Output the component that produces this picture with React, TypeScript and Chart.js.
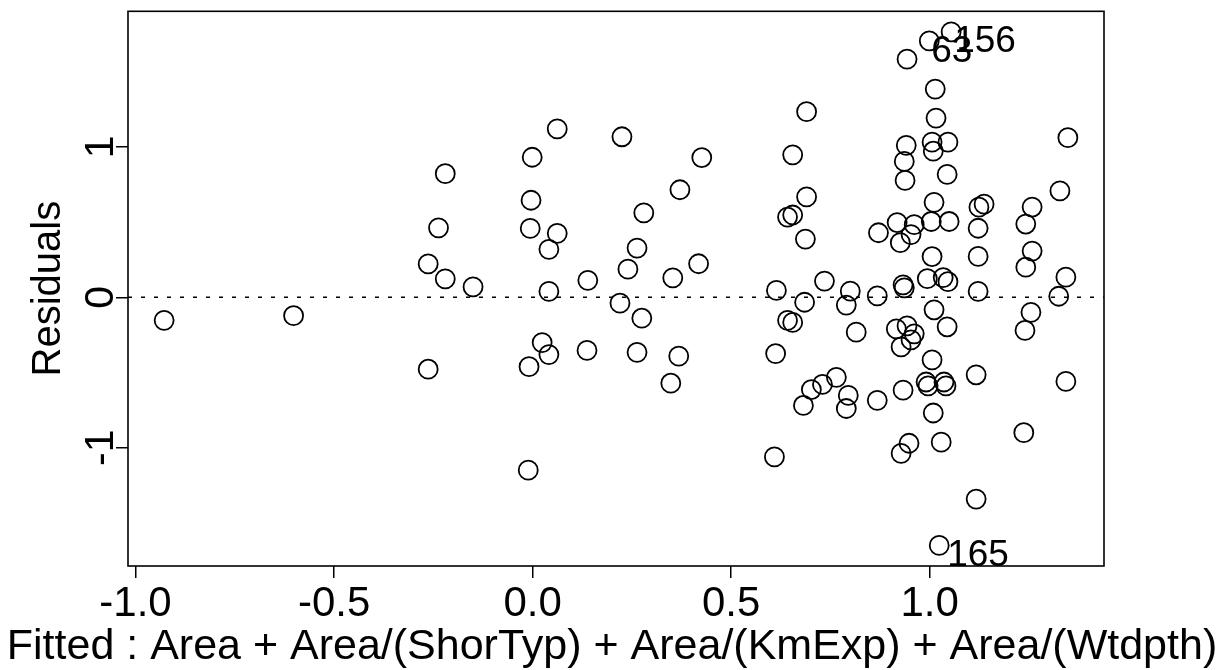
import React, { useEffect, useRef } from "react";
import { Chart, registerables } from "chart.js";

Chart.register(...registerables);

// Fitted values (x) and residuals (y)
const fittedValues = [
  -0.928, -0.602, -0.263, -0.22, -0.237, -0.263, -0.22, -0.15, 0.062, 0.225,
  -0.001, 0.426, 0.371, -0.004, 0.28, -0.006, 0.062, 0.041, 0.263, 0.24,
  0.418, 0.139, 0.353, 0.041, 0.22, 0.275, 0.024, 0.041, -0.009, 0.137,
  0.263, 0.368, 0.348, -0.011, 0.614, 0.612, 0.609, 0.655, 0.69, 0.69,
  0.642, 0.655, 0.687, 0.735, 0.685, 0.8, 0.79, 0.868, 0.642, 0.655,
  0.815, 0.765, 0.73, 0.702, 0.682, 0.795, 0.79, 0.868, 1.054, 0.999,
  0.943, 1.014, 1.016, 1.348, 0.941, 1.006, 1.046, 1.009, 0.936, 1.044,
  0.938, 1.328, 1.011, 1.124, 1.137, 1.258, 0.918, 1.004, 1.049, 1.122,
  1.242, 0.871, 0.961, 0.953, 0.926, 1.006, 1.122, 1.258, 1.242, 1.343,
  1.325, 0.936, 0.933, 0.994, 1.034, 1.046, 1.122, 1.255, 1.24, 1.011,
  1.044, 0.916, 0.943, 0.961, 0.953, 0.928, 1.006, 1.117, 1.343, 0.991,
  0.996, 1.036, 1.041, 0.933, 1.009, 0.948, 0.928, 1.029, 1.237, 1.117,
  1.024,
];
const residualValues = [
  -0.153, -0.122, -0.478, 0.822, 0.462, 0.222, 0.122, 0.069, 1.119, 1.067,
  0.931, 0.929, 0.715, 0.645, 0.561, 0.458, 0.425, 0.319, 0.327, 0.187,
  0.223, 0.113, 0.129, 0.039, -0.039, -0.139, -0.301, -0.381, -0.461, -0.353,
  -0.366, -0.391, -0.571, -1.149, 0.046, -0.374, -1.061, 0.947, 1.234, 0.667,
  0.533, 0.547, 0.387, 0.108, -0.033, 0.041, -0.052, 0.009, -0.153, -0.167,
  -0.232, -0.532, -0.579, -0.613, -0.719, -0.652, -0.739, -0.685, 1.764, 1.704,
  1.583, 1.384, 1.191, 1.061, 1.01, 1.031, 1.031, 0.971, 0.903, 0.817,
  0.777, 0.707, 0.631, 0.599, 0.619, 0.6, 0.497, 0.504, 0.504, 0.459,
  0.487, 0.429, 0.483, 0.417, 0.363, 0.271, 0.272, 0.307, 0.2, 0.134,
  0.007, 0.063, 0.083, 0.124, 0.131, 0.104, 0.039, -0.1, -0.22, -0.083,
  -0.196, -0.21, -0.19, -0.243, -0.283, -0.33, -0.416, -0.515, -0.559, -0.563,
  -0.589, -0.563, -0.589, -0.617, -0.769, -0.97, -1.037, -0.963, -0.9, -1.341,
  -1.649,
];

const xRange = [-1.019, 1.439];
const yRange = [-1.786, 1.901];
const xTickValues = [-1, -0.5, 0, 0.5, 1];
const xTickLabels = ["-1.0", "-0.5", "0.0", "0.5", "1.0"];
const yTickValues = [-1, 0, 1];
const yTickLabels = ["-1", "0", "1"];
const referenceLineX = [-1.019, 1.439];
const referenceLineY = [0, 0];
const labelledPointIndex = [58, 59, 120];
const labelledPointText = ["156", "63", "165"];
const xAxisTitle = "Fitted : Area + Area/(ShorTyp) + Area/(KmExp) + Area/(Wtdpth)";
const yAxisTitle = "Residuals";

// label placement (pixel offsets of text start / baseline from the point)
const labelOffsets = [
  [3, 20],
  [2, 21],
  [8, 21],
];

const FONT = '"Liberation Sans", Arial, Helvetica, sans-serif';

const decorPlugin = {
  id: "decor",
  afterDraw(chart: any) {
    const { ctx, chartArea: ca, scales, width } = chart;
    ctx.save();
    ctx.strokeStyle = "#000";
    ctx.lineWidth = 1.6;
    ctx.strokeRect(ca.left, ca.top, ca.right - ca.left, ca.bottom - ca.top);

    ctx.fillStyle = "#000";
    ctx.font = `41px ${FONT}`;
    ctx.textAlign = "center";
    ctx.textBaseline = "alphabetic";
    yTickValues.forEach((v, i) => {
      const y = scales.y.getPixelForValue(v);
      ctx.save();
      ctx.translate(ca.left - 15, y);
      ctx.rotate(-Math.PI / 2);
      ctx.fillText(yTickLabels[i], 0, 0);
      ctx.restore();
    });

    // x-axis title, spanning nearly the full width like the original
    ctx.font = `43px ${FONT}`;
    ctx.textAlign = "center";
    ctx.fillText(xAxisTitle, width / 2 - 2, ca.bottom + 93);

    ctx.font = `37px ${FONT}`;
    ctx.textAlign = "left";
    labelledPointIndex.forEach((idx, i) => {
      const px = scales.x.getPixelForValue(fittedValues[idx]);
      const py = scales.y.getPixelForValue(residualValues[idx]);
      ctx.fillText(labelledPointText[i], px + labelOffsets[i][0], py + labelOffsets[i][1]);
    });
    ctx.restore();
  },
};

export default function App() {
  const canvasRef = useRef<HTMLCanvasElement | null>(null);

  useEffect(() => {
    const canvas = canvasRef.current;
    if (!canvas) return;
    const points = fittedValues.map((x, i) => ({ x, y: residualValues[i] }));
    const refLine = referenceLineX.map((x, i) => ({ x, y: referenceLineY[i] }));

    const chart = new Chart(canvas, {
      type: "scatter",
      data: {
        datasets: [
          {
            label: "zero",
            data: refLine,
            showLine: true,
            borderColor: "#000",
            borderWidth: 1.6,
            borderDash: [4, 9],
            pointRadius: 0,
            fill: false,
          },
          {
            label: "residuals",
            data: points,
            showLine: false,
            pointStyle: "circle",
            pointRadius: 9.5,
            pointHoverRadius: 9.5,
            pointBorderWidth: 1.8,
            borderColor: "#000",
            backgroundColor: "rgba(0,0,0,0)",
          },
        ],
      },
      options: {
        animation: false,
        responsive: false,
        devicePixelRatio: 1,
        events: [],
        layout: { padding: { top: 9, right: 124, left: 0, bottom: 0 } },
        plugins: {
          legend: { display: false },
          tooltip: { enabled: false },
          title: { display: false },
        },
        scales: {
          x: {
            type: "linear",
            min: xRange[0],
            max: xRange[1],
            afterBuildTicks: (s: any) => {
              s.ticks = xTickValues.map((v) => ({ value: v }));
            },
            afterFit: (s: any) => {
              s.height = 104;
            },
            ticks: {
              autoSkip: false,
              maxRotation: 0,
              minRotation: 0,
              padding: 1,
              color: "#000",
              font: { family: FONT, size: 42 },
              callback: (_v: any, i: number) => xTickLabels[i],
            },
            grid: {
              drawOnChartArea: false,
              drawTicks: true,
              tickLength: 12,
              color: "#000",
              lineWidth: 1.5,
            },
            border: { display: false },
            title: { display: false },
          },
          y: {
            type: "linear",
            min: yRange[0],
            max: yRange[1],
            afterBuildTicks: (s: any) => {
              s.ticks = yTickValues.map((v) => ({ value: v }));
            },
            afterFit: (s: any) => {
              s.width = 128;
            },
            ticks: {
              display: false,
            },
            grid: {
              drawOnChartArea: false,
              drawTicks: true,
              tickLength: 12,
              color: "#000",
              lineWidth: 1.5,
            },
            border: { display: false },
            title: {
              display: true,
              text: yAxisTitle,
              color: "#000",
              font: { family: FONT, size: 40 },
              padding: { top: 25, bottom: 0 },
            },
          },
        },
      },
      plugins: [decorPlugin],
    });
    return () => chart.destroy();
  }, []);

  return (
    <div style={{ position: "fixed", left: 0, top: 0, width: 1228, height: 670, background: "#fff" }}>
      <canvas ref={canvasRef} width={1228} height={670} style={{ display: "block" }} />
    </div>
  );
}
